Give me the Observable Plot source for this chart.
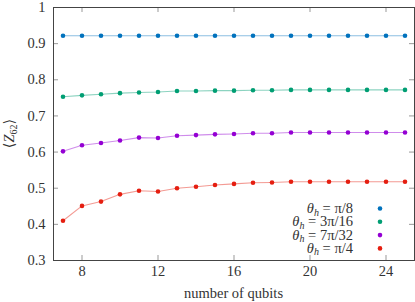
<!DOCTYPE html>
<html><head><meta charset="utf-8">
<script src="https://cdn.jsdelivr.net/npm/d3@7"></script>
<script src="https://cdn.jsdelivr.net/npm/@observablehq/plot@0.6"></script>
<style>
body{margin:0;background:#fff;}
svg{font-family:"Liberation Serif","DejaVu Serif",serif;}
</style></head>
<body><div id="chart"></div>
<script>
const qubits = [7,8,9,10,11,12,13,14,15,16,17,18,19,20,21,22,23,24,25];
const seriesNames = ["π/8","3π/16","7π/32","π/4"];
const seriesColors = ["#0072bd","#009e73","#9400d3","#e51e10"];
const valuesPi8   = [0.922,0.922,0.922,0.922,0.922,0.922,0.922,0.922,0.922,0.922,0.922,0.922,0.922,0.922,0.922,0.922,0.922,0.922,0.922];
const values3Pi16 = [0.753,0.757,0.760,0.763,0.765,0.766,0.769,0.769,0.770,0.770,0.771,0.771,0.772,0.772,0.772,0.772,0.772,0.772,0.772];
const values7Pi32 = [0.602,0.619,0.625,0.632,0.640,0.639,0.645,0.647,0.649,0.650,0.652,0.652,0.654,0.654,0.654,0.654,0.654,0.654,0.654];
const valuesPi4   = [0.410,0.451,0.463,0.483,0.493,0.491,0.500,0.504,0.509,0.512,0.515,0.516,0.518,0.518,0.518,0.518,0.518,0.518,0.518];
const xTicks = [8,12,16,20,24];
const yTicks = [0.3,0.4,0.5,0.6,0.7,0.8,0.9,1];

const allValues = [valuesPi8, values3Pi16, values7Pi32, valuesPi4];
const rows = [];
allValues.forEach((vals, s) => vals.forEach((v, i) => rows.push({n: qubits[i], v, s: seriesNames[s]})));

const W = 415, H = 302, mL = 53, mT = 7, mR = 1, mB = 42;
const pw = W - mL - mR, ph = H - mT - mB, tl = 5;
const fs = 14.5;

const chart = Plot.plot({
  width: W, height: H,
  marginLeft: mL, marginTop: mT, marginRight: mR, marginBottom: mB,
  style: {fontFamily: "'Liberation Serif','DejaVu Serif',serif", fontSize: fs + "px", color: "#333"},
  x: {domain: [6.5, 25.5]},
  y: {domain: [0.3, 1]},
  color: {domain: seriesNames, range: seriesColors},
  marks: [
    Plot.axisX({ticks: xTicks, tickSize: 0, tickPadding: 5, label: null, fontSize: fs}),
    Plot.axisY({ticks: yTicks, tickSize: 0, tickPadding: 8, label: null, fontSize: fs,
                tickFormat: d => d === 1 ? "1" : d.toFixed(1)}),
    Plot.tickY(yTicks, {y: d => d, insetRight: pw - tl, stroke: "#999"}),
    Plot.tickY(yTicks, {y: d => d, insetLeft: pw - tl, stroke: "#999"}),
    Plot.tickX(xTicks, {x: d => d, insetTop: ph - tl, stroke: "#999"}),
    Plot.tickX(xTicks, {x: d => d, insetBottom: ph - tl, stroke: "#999"}),
    Plot.line(rows, {x: "n", y: "v", z: "s", stroke: "s", strokeOpacity: 0.45, strokeWidth: 1.1}),
    Plot.dot(rows, {x: "n", y: "v", fill: "s", r: 2.3}),
    Plot.frame({stroke: "#444", strokeWidth: 1})
  ]
});
document.getElementById("chart").appendChild(chart);

const svg = d3.select(chart);
// x label
svg.append("text").attr("x", (mL + W - mR) / 2).attr("y", 298)
  .attr("text-anchor", "middle").attr("font-size", fs).attr("fill", "#333")
  .text("number of qubits");
// y label
const yl = svg.append("text").attr("transform", `translate(14,${mT + ph/2}) rotate(-90)`)
  .attr("text-anchor", "middle").attr("font-size", fs).attr("fill", "#333");
yl.append("tspan").text("⟨");
yl.append("tspan").attr("font-style", "italic").text("Z");
yl.append("tspan").attr("font-size", 10).attr("dy", 3).text("62");
yl.append("tspan").attr("dy", -3).text("⟩");
// legend
const lg = svg.append("g");
seriesNames.forEach((name, i) => {
  const y = 213 + i * 13.3;
  const t = lg.append("text").attr("x", 353).attr("y", y).attr("text-anchor", "end")
    .attr("font-size", fs).attr("fill", "#333");
  t.append("tspan").attr("font-style", "italic").text("θ");
  t.append("tspan").attr("font-style", "italic").attr("font-size", 10).attr("dy", 2.5).text("h");
  t.append("tspan").attr("dy", -2.5).text(" = " + name);
  lg.append("circle").attr("cx", 380).attr("cy", y - 4.5).attr("r", 2.3).attr("fill", seriesColors[i]);
});
</script></body></html>
